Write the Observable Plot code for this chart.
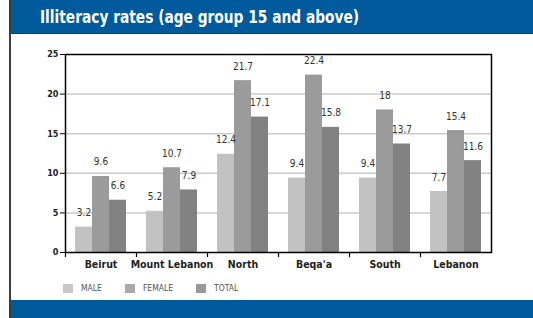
<!DOCTYPE html>
<html>
<head>
<meta charset="utf-8">
<script src="https://cdn.jsdelivr.net/npm/d3@7"></script>
<script src="https://cdn.jsdelivr.net/npm/@observablehq/plot@0.6"></script>
<style>
  html, body { margin: 0; padding: 0; background: #fff; }
  #wrap { position: relative; width: 533px; height: 318px; overflow: hidden; background: #fff;
          font-family: "Liberation Sans Narrow", "Arial Narrow", "DejaVu Sans Condensed", sans-serif; }
  #chart { position: absolute; left: 0; top: 0; }
  #leftline { position: absolute; left: 9px; top: 0; width: 1.5px; height: 318px; background: #3c3c3c; z-index: 3; }
  #titlebar { position: absolute; left: 10px; top: 0; width: 523px; height: 33px; background: #005a9c;
              border-bottom: 1.5px solid #1c3a5a; z-index: 2; }
  #titlebar span { position: absolute; left: 30px; top: 6px; color: #fff; font-weight: bold; font-size: 18px;
                   white-space: nowrap; transform: scaleX(0.85); transform-origin: 0 50%; }
  #bottombar { position: absolute; left: 10px; top: 300px; width: 523px; height: 18px; background: #005a9c; z-index: 2; }
  #legend { position: absolute; left: 63px; top: 283px; display: flex; align-items: center; z-index: 2;
            font-size: 8.5px; color: #555; }
  .item { display: flex; align-items: center; margin-right: 23px; }
  .sw { width: 10px; height: 9px; margin-right: 8px; }
</style>
</head>
<body>
<div id="wrap">
  <div id="chart"></div>
  <div id="leftline"></div>
  <div id="titlebar"><span id="title"></span></div>
  <div id="legend"></div>
  <div id="bottombar"></div>
</div>
<script>
const title = "Illiteracy rates (age group 15 and above)";
const categories = ["Beirut", "Mount Lebanon", "North", "Beqa'a", "South", "Lebanon"];
const series = ["MALE", "FEMALE", "TOTAL"];
const male = [3.2, 5.2, 12.4, 9.4, 9.4, 7.7];
const female = [9.6, 10.7, 21.7, 22.4, 18, 15.4];
const total = [6.6, 7.9, 17.1, 15.8, 13.7, 11.6];
const yTicks = [0, 5, 10, 15, 20, 25];
const colors = ["#c2c2c2", "#9b9b9b", "#828282"];
const legendColors = ["#c8c8c8", "#a9a9a9", "#999999"];

document.getElementById("title").textContent = title;

const values = [male, female, total];
const data = [];
categories.forEach((c, i) => series.forEach((s, j) => data.push({region: c, series: s, value: values[j][i]})));

const W = 533, H = 318;
const mt = 54, mb = 66, ml = 63, mr = 41;
const innerH = H - mt - mb;

const chart = Plot.plot({
  width: W, height: H,
  marginTop: mt, marginBottom: mb, marginLeft: ml, marginRight: mr,
  style: {background: "transparent", fontFamily: "'Liberation Sans Narrow', 'Arial Narrow', 'DejaVu Sans Condensed', sans-serif"},
  fx: {domain: categories, padding: 0, label: null},
  x: {domain: series, paddingInner: 0, paddingOuter: 0.52, axis: null},
  y: {domain: [0, 25], axis: null},
  color: {domain: series, range: colors},
  marks: [
    Plot.ruleY(yTicks.slice(1, -1), {stroke: "#cbcbcb", strokeWidth: 1.5}),
    Plot.barY(data, {fx: "region", x: "series", y: "value", fill: "series"}),
    Plot.text(data, {fx: "region", x: "series", y: "value", text: d => String(d.value),
      lineAnchor: "bottom", dy: -11, fontSize: 10, fill: "#333"}),
    Plot.frame({anchor: "left", insetTop: innerH, insetBottom: -4, stroke: "#000", strokeWidth: 1.2}),
    Plot.frame({facet: "super", stroke: "#000", strokeWidth: 1.5}),
    Plot.axisY(yTicks, {tickSize: 5, tickPadding: 2, fontWeight: "bold", fontSize: 9, fill: "#222", stroke: "#000", label: null}),
    Plot.axisFx({anchor: "bottom", tickSize: 0, tickPadding: 8, fontWeight: "bold", fontSize: 10.5, fill: "#222", label: null})
  ]
});
document.getElementById("chart").appendChild(chart);

const legend = document.getElementById("legend");
series.forEach((s, j) => {
  const item = document.createElement("div");
  item.className = "item";
  const sw = document.createElement("div");
  sw.className = "sw";
  sw.style.background = legendColors[j];
  const t = document.createElement("span");
  t.textContent = s;
  item.appendChild(sw); item.appendChild(t);
  legend.appendChild(item);
});
</script>
</body>
</html>
